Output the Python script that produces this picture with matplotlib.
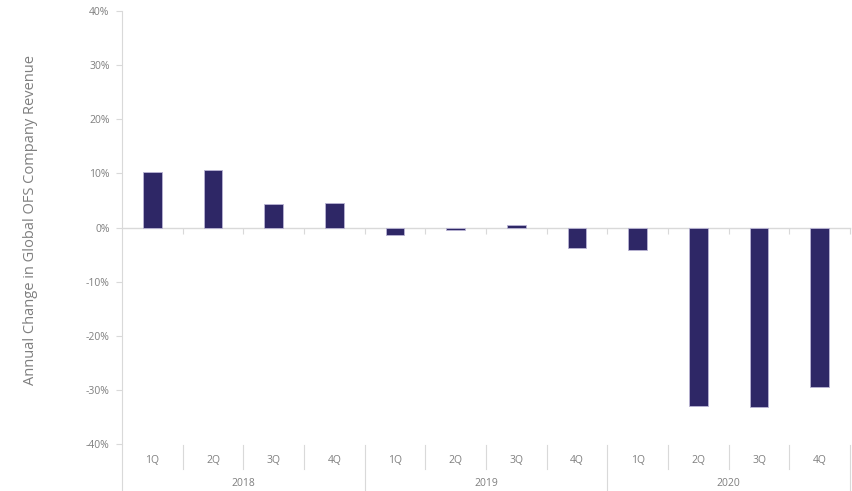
import matplotlib
matplotlib.use("Agg")
import matplotlib.pyplot as plt
from matplotlib.ticker import PercentFormatter
from matplotlib.lines import Line2D

years = ["2018", "2019", "2020"]
quarters = ["1Q", "2Q", "3Q", "4Q"]
# annual change in revenue, %
revenue_change = [10.2, 10.7, 4.4, 4.6,
                  -1.3, -0.5, 0.4, -3.7,
                  -4.2, -32.9, -33.2, -29.5]

BAR = "#2E2766"
GRID = "#D9D9D9"
TXT = "#7F7F7F"

plt.rcParams['font.family'] = ['Open Sans', 'DejaVu Sans']
plt.rcParams['axes.unicode_minus'] = False

fig = plt.figure(figsize=(8.52, 4.91), dpi=100)
ax = fig.add_axes([122 / 852, 1 - 444 / 491, 728 / 852, 433 / 491])

n = len(revenue_change)
xs = list(range(n))
ax.bar(xs, revenue_change, width=0.31, color=BAR, edgecolor="#B9B4D4", linewidth=0.6, zorder=3)

ax.set_xlim(-0.5, n - 0.5)
ax.set_ylim(-40, 40)
ax.set_yticks(range(-40, 41, 10))
ax.yaxis.set_major_formatter(PercentFormatter(decimals=0))
ax.tick_params(axis='y', colors=GRID, labelcolor=TXT, labelsize=7.5, length=4, width=0.8, pad=5)

for s in ["top", "right"]:
    ax.spines[s].set_visible(False)
ax.spines["left"].set_color(GRID)
ax.spines["left"].set_linewidth(0.8)
ax.spines["bottom"].set_position(("data", 0))
ax.spines["bottom"].set_color(GRID)
ax.spines["bottom"].set_linewidth(1.0)
ax.set_xticks([i + 0.5 for i in range(n)])
ax.tick_params(axis='x', colors=GRID, length=4, width=0.8, labelbottom=False, direction='out')

ax.set_ylabel("Annual Change in Global OFS Company Revenue", fontsize=10.5, color=TXT)
ax.yaxis.set_label_coords(-0.115, 0.517)

# multi-level category labels under the plot
trans = ax.get_xaxis_transform()
for i in range(n):
    ax.text(i, -0.039, quarters[i % 4], transform=trans, ha='center', va='center',
            fontsize=7.5, color=TXT)
for j, yr in enumerate(years):
    ax.text(j * 4 + 1.5, -0.092, yr, transform=trans, ha='center', va='center',
            fontsize=7.5, color=TXT)
for b in range(n + 1):
    xb = b - 0.5
    if b % 4 == 0:
        y0 = -0.12
    else:
        y0 = -0.058
    ax.add_line(Line2D([xb, xb], [-0.003, y0], transform=trans, color=GRID,
                       linewidth=0.8, clip_on=False))

fig.savefig("out.png", dpi=100)
